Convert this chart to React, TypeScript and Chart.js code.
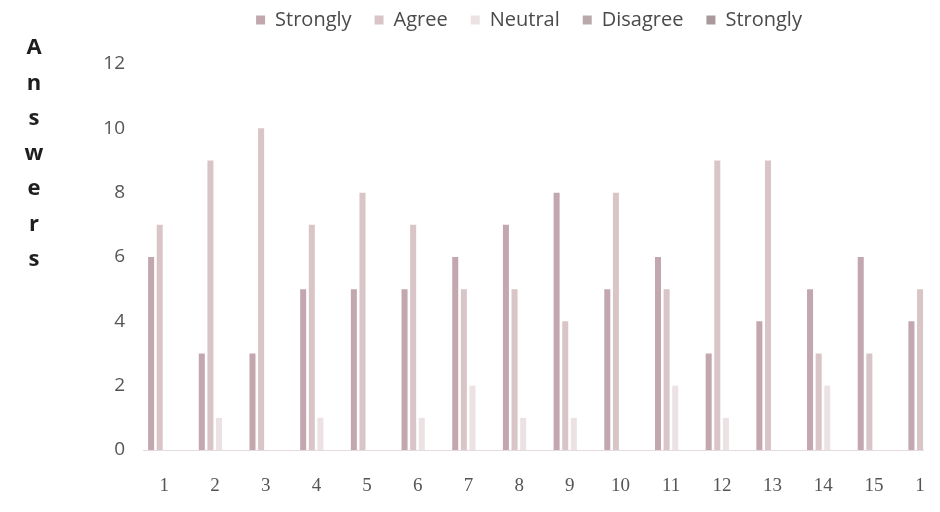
import React, { useEffect, useRef } from "react";
import { Chart, registerables } from "chart.js";

Chart.register(...registerables);

const categories = ["1", "2", "3", "4", "5", "6", "7", "8", "9", "10", "11", "12", "13", "14", "15", "16"];
const seriesNames = ["Strongly", "Agree", "Neutral", "Disagree", "Strongly"];
const stronglyAgree = [6, 3, 3, 5, 5, 5, 6, 7, 8, 5, 6, 3, 4, 5, 6, 4];
const agree = [7, 9, 10, 7, 8, 7, 5, 5, 4, 8, 5, 9, 9, 3, 3, 5];
const neutral = [0, 1, 0, 1, 0, 1, 2, 1, 1, 0, 2, 1, 0, 2, 0, 0];
const disagree = [0, 0, 0, 0, 0, 0, 0, 0, 0, 0, 0, 0, 0, 0, 0, 0];
const stronglyDisagree = [0, 0, 0, 0, 0, 0, 0, 0, 0, 0, 0, 0, 0, 0, 0, 0];
const yTicks = [0, 2, 4, 6, 8, 10, 12];
const axisTitle = "Answers";

const colors = ["#c2a8ae", "#d9c5c8", "#ece2e3", "#b9a9ad", "#a9999d"];

const verticalTitle = {
  id: "verticalTitle",
  afterDraw(chart: any) {
    const ctx = chart.ctx;
    ctx.save();
    ctx.font = "bold 22px 'Open Sans', sans-serif";
    ctx.fillStyle = "#1e1e1e";
    ctx.textAlign = "center";
    ctx.textBaseline = "middle";
    axisTitle.split("").forEach((ch, i) => {
      ctx.fillText(ch, 26, 40 + i * 35.3);
    });
    ctx.restore();
  },
};

export default function App() {
  const ref = useRef<HTMLCanvasElement | null>(null);
  useEffect(() => {
    if (!ref.current) return;
    const data = [stronglyAgree, agree, neutral, disagree, stronglyDisagree];
    const chart = new Chart(ref.current, {
      type: "bar",
      data: {
        labels: categories,
        datasets: seriesNames.map((name, i) => ({
          label: name,
          data: data[i],
          backgroundColor: colors[i],
          borderWidth: 0,
          barPercentage: 0.7,
          categoryPercentage: 0.85,
        })),
      },
      options: {
        animation: false,
        responsive: false,
        maintainAspectRatio: false,
        layout: { padding: { left: 96, right: 14, top: -21, bottom: 0 } },
        plugins: {
          legend: {
            position: "top",
            labels: {
              boxWidth: 9,
              boxHeight: 9,
              padding: 23,
              color: "#4a4a4a",
              font: { family: "'Open Sans', sans-serif", size: 20 },
            },
          },
          tooltip: { enabled: false },
        },
        scales: {
          x: {
            afterFit: (scale: any) => {
              scale.height = 54;
            },
            grid: { display: false, drawTicks: false },
            border: { display: true, color: "#e6dadc", width: 1 },
            ticks: {
              color: "#555",
              padding: 25,
              labelOffset: -4,
              maxRotation: 0,
              autoSkip: false,
              font: { family: "'Liberation Serif', serif", size: 19 },
            },
          },
          spacer: {
            type: "category",
            position: "top",
            afterFit: (scale: any) => {
              scale.height = 24;
            },
            grid: { display: false, drawTicks: false },
            border: { display: false },
            ticks: { display: false },
          },
          y: {
            min: 0,
            max: 12,
            afterFit: (scale: any) => {
              scale.width = 39;
            },
            afterBuildTicks: (scale: any) => {
              scale.ticks = yTicks.map((v) => ({ value: v }));
            },
            grid: { display: false, drawTicks: false },
            border: { display: false },
            ticks: {
              color: "#555",
              padding: 18,
              font: { family: "'Open Sans', sans-serif", size: 19 },
            },
          },
        },
      },
      plugins: [verticalTitle],
    });
    return () => chart.destroy();
  }, []);
  return (
    <div style={{ width: 916, height: 496, overflow: "hidden", background: "#fff" }}>
      <canvas ref={ref} width={960} height={496} style={{ width: 960, height: 496, display: "block" }} />
    </div>
  );
}
